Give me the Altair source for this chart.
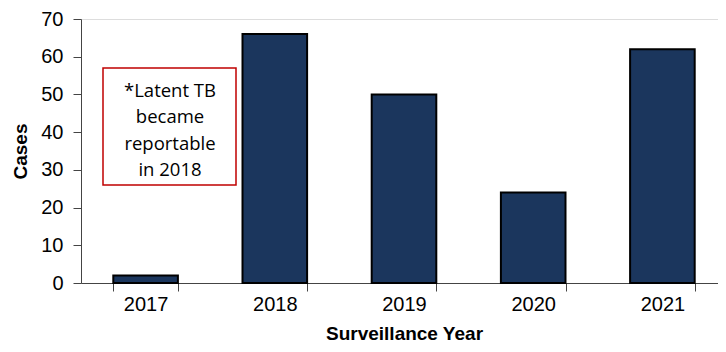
import altair as alt
import pandas as pd

years = ["2017", "2018", "2019", "2020", "2021"]
cases = [2, 66, 50, 24, 62]
note_lines = ["*Latent TB", "became", "reportable", "in 2018"]

df = pd.DataFrame({"year": years, "cases": cases})

FONT = "Liberation Sans"

bars = alt.Chart(df).mark_bar(
    color="#1B365D", stroke="#000000", strokeWidth=2
).encode(
    x=alt.X("year:N", sort=years, title="Surveillance Year",
            scale=alt.Scale(paddingInner=0.5, paddingOuter=0.25),
            axis=alt.Axis(labelAngle=0, tickBand="extent", labelFontSize=20,
                          labelFont=FONT, labelColor="#000000", labelPadding=3,
                          titleFont=FONT, titleFontSize=19, titleFontWeight="bold",
                          titleColor="#000000", titlePadding=10,
                          domainColor="#444444", tickColor="#444444", tickSize=8)),
    y=alt.Y("cases:Q", title="Cases",
            scale=alt.Scale(domain=[0, 70], nice=False),
            axis=alt.Axis(values=[0, 10, 20, 30, 40, 50, 60, 70], grid=False,
                          labelFontSize=20, labelFont=FONT, labelColor="#000000",
                          labelPadding=10,
                          titleFont=FONT, titleFontSize=19, titleFontWeight="bold",
                          titleColor="#000000", titlePadding=10,
                          domainColor="#444444", tickColor="#444444", tickSize=8)),
)

box = alt.Chart(pd.DataFrame({"k": [0]})).mark_rect(
    fill="#ffffff", stroke="#C00000", strokeWidth=1.5
).encode(
    x=alt.value(22), x2=alt.value(155), y=alt.value(49), y2=alt.value(166)
)

note = alt.Chart(pd.DataFrame({"k": [0]})).mark_text(
    font="Open Sans", fontSize=18.5, color="#000000", align="center",
    baseline="alphabetic", lineHeight=26.3, text=note_lines
).encode(
    x=alt.value(89), y=alt.value(78)
)

chart = alt.layer(bars, box, note).properties(
    width=646, height=264,
    autosize=alt.AutoSizeParams(type="none"),
    padding={"left": 73, "top": 11, "right": -9, "bottom": 61},
).configure_view(stroke=None).configure(background="#ffffff")

chart.save("out.html", embed_options={"renderer": "svg", "actions": False})
